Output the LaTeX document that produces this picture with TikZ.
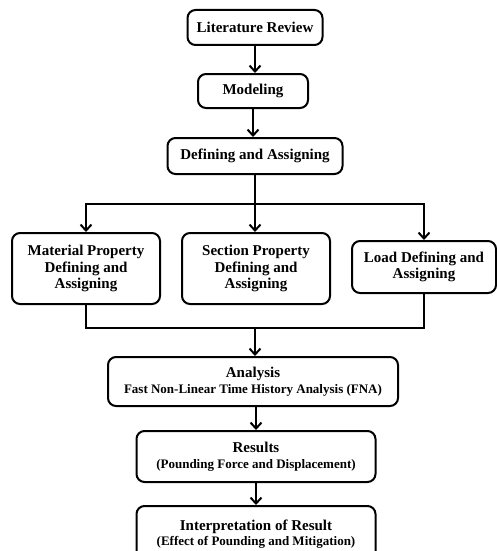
\documentclass[tikz,border=0pt]{standalone}
\usepackage{fontspec}
\setmainfont{Liberation Serif}
\usetikzlibrary{arrows.meta}

\newcommand{\subtextfont}{\bfseries\fontsize{13}{15}\selectfont}

\tikzset{
    stagebox/.style={draw, line width=2pt, rounded corners=8pt, align=center, inner sep=0pt, font=\bfseries\fontsize{15}{16.5}\selectfont},
    link/.style={draw, line width=2pt},
    arr/.style={link, -{Straight Barb[length=6pt, width=11pt, line width=2pt]}}
}

\begin{document}
\begin{tikzpicture}[x=1pt, y=-1pt]
    \useasboundingbox (0,0) rectangle (497,551);
    \clip (0,0) rectangle (497,551);

    % main column
    \node[stagebox, minimum width=135pt, minimum height=35pt] (lit) at (255,27.5) {Literature Review};
    \node[stagebox, minimum width=110pt, minimum height=34pt] (mod) at (253,91) {Modeling};
    \node[stagebox, minimum width=175pt, minimum height=36pt] (def) at (255,156) {Defining and Assigning};

    % three parallel tasks
    \node[stagebox, minimum width=148pt, minimum height=71pt] (mat) at (86,268.5) {Material Property\\Defining and\\Assigning};
    \node[stagebox, minimum width=148pt, minimum height=71pt] (sec) at (256,268.5) {Section Property\\Defining and\\Assigning};
    \node[stagebox, minimum width=144pt, minimum height=52pt] (load) at (424,267) {Load Defining and\\Assigning};

    % analysis and output
    \node[stagebox, minimum width=290pt, minimum height=49pt] (ana) at (253,381.5) {Analysis\\[-1pt]{\subtextfont Fast Non-Linear Time History Analysis (FNA)}};
    \node[stagebox, minimum width=239pt, minimum height=51pt] (res) at (256,456.5) {Results\\[-1pt]{\subtextfont (Pounding Force and Displacement)}};
    \node[stagebox, minimum width=239pt, minimum height=56pt] (int) at (256,534) {Interpretation of Result\\[-1pt]{\subtextfont (Effect of Pounding and Mitigation)}};

    \coordinate (br) at (255,204);
    \coordinate (mg) at (255,328);

    \draw[arr] (lit) -- (lit.south |- mod.north);
    \draw[arr] (mod) -- (mod.south |- def.north);
    \draw[link] (def) -- (br);
    \draw[arr] (br) -- (br |- sec.north);
    \draw[arr] (br) -| (mat);
    \draw[arr] (br) -| (load);
    \draw[link] (mat) |- (mg);
    \draw[link] (load) |- (mg);
    \draw[arr] (mg) -- (mg |- ana.north);
    \draw[arr] (ana.south -| res) -- (res);
    \draw[arr] (res) -- (int);
\end{tikzpicture}
\end{document}
